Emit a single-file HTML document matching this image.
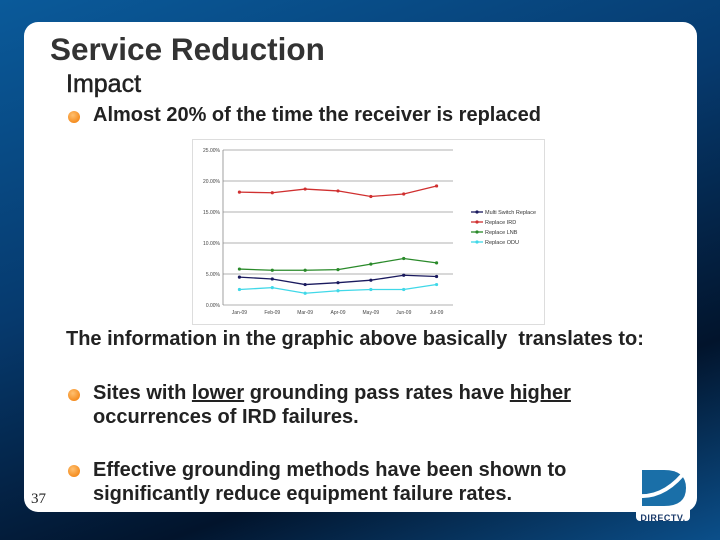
<!DOCTYPE html>
<html><head><meta charset="utf-8"><style>
body{margin:0;width:720px;height:540px;overflow:hidden;background:linear-gradient(160deg,#0a5a9a 0%,#063a6e 40%,#02142c 75%,#0b4f8a 100%);font-family:"Liberation Sans",sans-serif;position:relative}
.panel{position:absolute;left:24px;top:22px;width:673px;height:490px;background:#fff;border-radius:14px}
.t{position:absolute;color:#222;font-weight:bold;white-space:nowrap}
.b{position:absolute;width:12px;height:12px;border-radius:50%;background:radial-gradient(circle at 40% 35%,#ffc070,#f07800)}
</style></head><body>
<div class="panel"></div>
<div class="t" style="left:50px;top:31px;font-size:31.5px;color:#333">Service Reduction</div>
<div class="t" style="left:66px;top:70px;font-size:25px;font-weight:normal;color:#222;-webkit-text-stroke:0.5px #222">Impact</div>
<div class="b" style="left:68px;top:111px"></div>
<div class="t" style="left:93px;top:104px;font-size:20px">Almost 20% of the time the receiver is replaced</div>
<svg id="chart" style="position:absolute;left:192px;top:139px" width="353" height="186"></svg>
<div class="t" style="left:66px;top:328px;font-size:20px">The information in the graphic above basically&nbsp; translates to:</div>
<div class="b" style="left:68px;top:389px"></div>
<div class="t" style="left:93px;top:381px;font-size:20px;line-height:24px">Sites with <u>lower</u> grounding pass rates have <u>higher</u><br>occurrences of IRD failures.</div>
<div class="b" style="left:68px;top:465px"></div>
<div class="t" style="left:93px;top:458px;font-size:20px;line-height:24px">Effective grounding methods have been shown to<br>significantly reduce equipment failure rates.</div>
<div class="t" style="left:31px;top:491px;font-size:15px;font-weight:normal;font-family:'Liberation Serif',serif">37</div>
<div style="position:absolute;left:636px;top:466px;width:54px;height:55px;background:#fff;border-radius:4px">
<svg width="54" height="42"><path d="M6 4 H28 Q50 4 50 22 Q50 40 28 40 H6 Z" fill="#1a6fa8"/><path d="M2 30 Q30 32 52 2" stroke="#fff" stroke-width="4" fill="none"/></svg>
<div style="font-size:9px;font-weight:bold;color:#1a3a6a;text-align:center;letter-spacing:0.5px">DIRECTV.</div></div>
<script>
const categories=["Jan-09","Feb-09","Mar-09","Apr-09","May-09","Jun-09","Jul-09"];
const multiSwitch=[4.5,4.2,3.3,3.6,4.0,4.8,4.6];
const ird=[18.2,18.1,18.7,18.4,17.5,17.9,19.2];
const lnb=[5.8,5.6,5.6,5.7,6.6,7.5,6.8];
const odu=[2.5,2.8,1.9,2.3,2.5,2.5,3.3];
const yTicks=[0,5,10,15,20,25];
const seriesNames=["Multi Switch Replace","Replace IRD","Replace LNB","Replace ODU"];
const NS="http://www.w3.org/2000/svg",svg=document.getElementById('chart');
function mk(t,a){const e=document.createElementNS(NS,t);for(const k in a)e.setAttribute(k,a[k]);svg.appendChild(e);return e;}
const x0=31,x1=261,y0=166,y1=11;
const xs=i=>x0+(x1-x0)*(i+0.5)/categories.length;
const ys=v=>y0-(v/25)*(y0-y1);
let r=mk('rect',{x:0.5,y:0.5,width:352,height:185,fill:'#fff',stroke:'#ddd'});

yTicks.forEach(v=>{let l=mk('line',{x1:x0,x2:x1,y1:ys(v),y2:ys(v),stroke:'#999','stroke-width':0.8});

let t=mk('text',{x:x0-3,y:ys(v)+2,'font-size':5,'text-anchor':'end',fill:'#444'});t.textContent=v.toFixed(2)+'%';
});
let ax=mk('line',{x1:x0,x2:x0,y1:y1,y2:y0,stroke:'#888','stroke-width':0.8});

categories.forEach((c,i)=>{let t=mk('text',{x:xs(i),y:y0+9,'font-size':5,'text-anchor':'middle',fill:'#444'});t.textContent=c;
});
const series=[[multiSwitch,'#1a1a5e'],[ird,'#d03030'],[lnb,'#2a8a2a'],[odu,'#40d8e8']];
series.forEach(([d,c],si)=>{
let p=mk('polyline',{points:d.map((v,i)=>xs(i)+','+ys(v)).join(' '),fill:'none',stroke:c,'stroke-width':1.3});

d.forEach((v,i)=>{let m=mk('circle',{cx:xs(i),cy:ys(v),r:1.6,fill:c});
});
let ly=73+si*10;
let ll=mk('line',{x1:279,x2:291,y1:ly,y2:ly,stroke:c,'stroke-width':1.3});

let lm=mk('circle',{cx:285,cy:ly,r:1.6,fill:c});

let lt=mk('text',{x:293,y:ly+2,'font-size':5.5,fill:'#333'});lt.textContent=seriesNames[si];
});
</script>
</body></html>
